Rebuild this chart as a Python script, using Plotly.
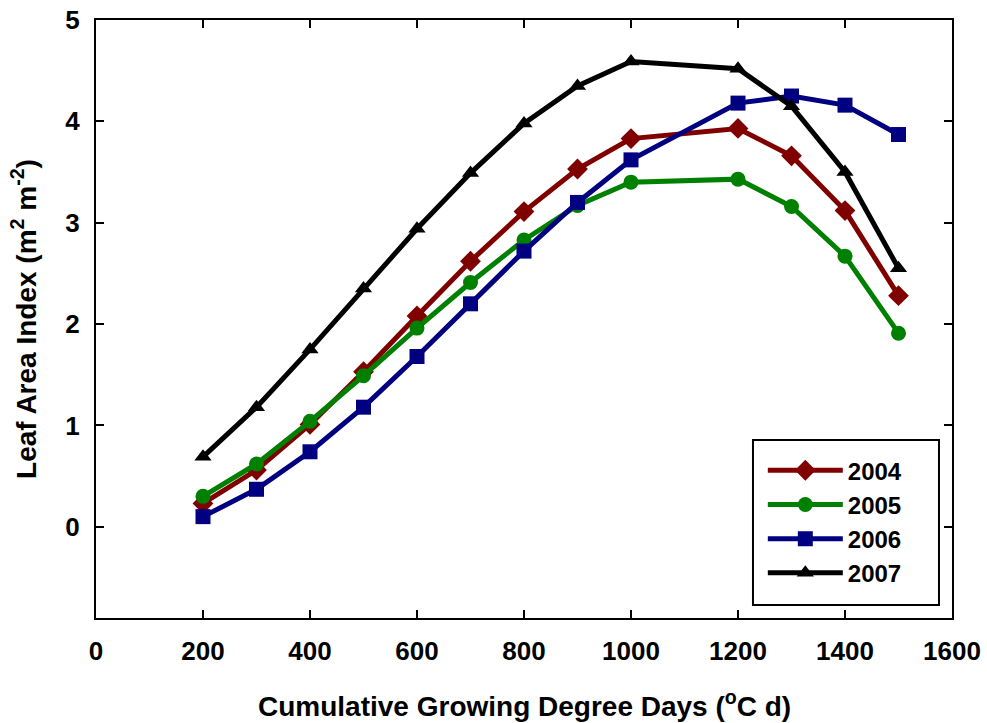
import plotly.graph_objects as go

gdd = [200, 300, 400, 500, 600, 700, 800, 900, 1000, 1200, 1300, 1400, 1500]
lai_2004 = [0.23, 0.56, 1.01, 1.53, 2.08, 2.62, 3.11, 3.53, 3.83, 3.93, 3.66, 3.12, 2.28]
lai_2005 = [0.30, 0.62, 1.04, 1.49, 1.96, 2.41, 2.83, 3.17, 3.40, 3.43, 3.16, 2.67, 1.91]
lai_2006 = [0.10, 0.37, 0.74, 1.18, 1.68, 2.20, 2.72, 3.20, 3.62, 4.18, 4.25, 4.16, 3.87]
lai_2007 = [0.69, 1.18, 1.75, 2.35, 2.94, 3.49, 3.98, 4.35, 4.59, 4.52, 4.15, 3.50, 2.55]

series = [
    ("2004", lai_2004, "#800000", "diamond", 16),
    ("2005", lai_2005, "#008000", "circle", 15),
    ("2006", lai_2006, "#000080", "square", 15),
    ("2007", lai_2007, "#000000", "triangle-up", 15),
]

fig = go.Figure()
for name, vals, color, sym, size in series:
    fig.add_trace(go.Scatter(
        x=gdd, y=vals, name=name, mode="lines+markers",
        line=dict(color=color, width=5),
        marker=dict(symbol=sym, size=size, color=color),
    ))

font_family = "Liberation Sans, Arial, sans-serif"
axis_common = dict(
    showline=True, linecolor="black", linewidth=2, mirror="ticks",
    ticks="inside", ticklen=8, tickwidth=2, tickcolor="black",
    showgrid=False, zeroline=False, ticklabeloverflow="allow",
    automargin=False,
    tickfont=dict(family=font_family, size=26, color="black", weight="bold"),
)

fig.update_layout(
    width=987, height=723,
    margin=dict(l=96, r=35, t=20, b=105),
    paper_bgcolor="white", plot_bgcolor="white",
    font=dict(family=font_family, color="black"),
    xaxis=dict(
        range=[0, 1600], tickvals=[0, 200, 400, 600, 800, 1000, 1200, 1400, 1600],
        ticklabelstandoff=9,
        **axis_common,
    ),
    yaxis=dict(
        range=[-0.9, 5], tickvals=[0, 1, 2, 3, 4, 5],
        ticklabelstandoff=9,
        title=dict(text="Leaf Area Index (m<sup>2</sup> m<sup>-2</sup>)",
                   font=dict(family=font_family, size=28, color="black", weight="bold"),
                   standoff=21),
        **axis_common,
    ),
    legend=dict(
        x=0.779, y=0.284, xanchor="left", yanchor="top",
        borderwidth=0, bgcolor="rgba(0,0,0,0)",
        font=dict(family=font_family, size=24, color="black", weight="bold"),
        itemwidth=75, tracegroupgap=0,
    ),
    showlegend=True,
)

# x-axis title
fig.add_annotation(
    text="Cumulative Growing Degree Days (<sup>o</sup>C d)",
    xref="paper", yref="paper", x=0.5, y=0, xanchor="center", yanchor="middle",
    yshift=-86, showarrow=False,
    font=dict(family=font_family, size=28, color="black", weight="bold"),
)

# legend frame
fig.add_shape(
    type="rect", xref="paper", yref="paper",
    x0=0.7675, x1=0.9848, y0=0.0217, y1=0.2977,
    line=dict(color="black", width=2), fillcolor="white", layer="below",
)

fig.write_html("out.html", config={"displayModeBar": False},
               post_script="document.body.style.margin='0px';")
